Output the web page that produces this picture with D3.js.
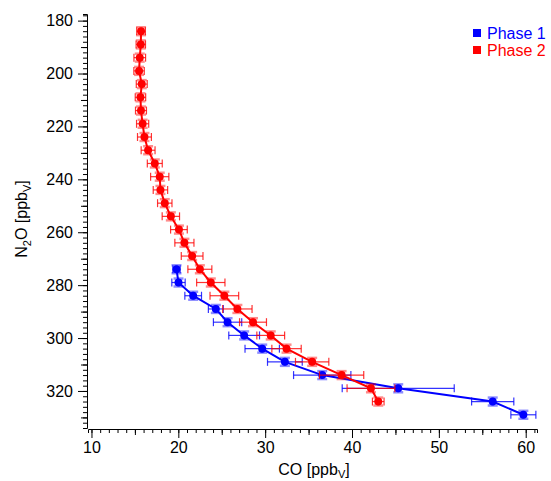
<!DOCTYPE html>
<html>
<head>
<meta charset="utf-8">
<script src="https://cdn.jsdelivr.net/npm/d3@7"></script>
<style>
  body { margin: 0; background: #fff; }
  svg { font-family: "Liberation Sans", Arial, Helvetica, sans-serif; }
  .axis path, .axis line { stroke: #000; }
  .axis text { fill: #000; font-size: 16px; }
</style>
</head>
<body>
<div id="chart"></div>
<script>
// phase 1 (blue)
var phase1N2O = [274, 279, 284, 289, 294, 299, 304, 309, 314, 319, 324, 329];
var phase1CO = [19.79, 20.02, 21.71, 24.32, 25.67, 27.58, 29.66, 32.27, 36.57, 45.32, 56.20, 59.73];
var phase1COErr = [0.42, 0.77, 0.96, 0.86, 1.63, 1.77, 1.98, 2.00, 3.30, 6.45, 2.43, 1.44];
var phase1N2OErr = [1.5, 1.5, 1.5, 1.5, 1.5, 1.5, 1.5, 1.5, 1.5, 1.5, 1.5, 1.5];

// phase 2 (red)
var phase2N2O = [184, 189, 194, 199, 204, 209, 214, 219, 224, 229, 234, 239, 244, 249, 254,
                 259, 264, 269, 274, 279, 284, 289, 294, 299, 304, 309, 314, 319, 324];
var phase2CO = [15.71, 15.68, 15.56, 15.48, 15.79, 15.64, 15.70, 15.89, 16.10, 16.52, 17.29, 17.86, 17.94, 18.44, 19.14,
                20.07, 20.70, 21.59, 22.48, 23.74, 25.30, 26.80, 28.60, 30.64, 32.46, 35.41, 38.80, 42.18, 43.02];
var phase2COErr = [0.50, 0.54, 0.67, 0.60, 0.63, 0.60, 0.63, 0.70, 0.80, 0.80, 0.86, 1.05, 0.83, 0.83, 1.00,
                   0.96, 1.10, 1.25, 1.38, 1.63, 1.65, 1.69, 1.55, 1.60, 1.69, 1.92, 2.55, 2.75, 0.67];
var phase2N2OErr = [1.5, 1.5, 1.5, 1.5, 1.5, 1.5, 1.5, 1.5, 1.5, 1.5, 1.5, 1.5, 1.5, 1.5, 1.5,
                    1.5, 1.5, 1.5, 1.5, 1.5, 1.5, 1.5, 1.5, 1.5, 1.5, 1.5, 1.5, 1.5, 1.5];

var xMajor = [10, 20, 30, 40, 50, 60];
var yMajor = [180, 200, 220, 240, 260, 280, 300, 320];

var width = 551, height = 481;

var svg = d3.select("#chart").append("svg")
    .attr("width", width)
    .attr("height", height);

var x = d3.scaleLinear().domain([9.6, 61.3]).range([88, 537]);
var y = d3.scaleLinear().domain([177.5, 334]).range([14, 428]);

function seq(a, b, step) {
  var out = [];
  for (var v = a; v <= b + 1e-9; v += step) out.push(Math.round(v * 100) / 100);
  return out;
}

// x axis: minor, medium, major ticks
var xg = svg.append("g").attr("class", "axis").attr("transform", "translate(0,429)");
xg.call(d3.axisBottom(x).tickValues(seq(10, 61, 1)).tickSize(4).tickFormat(""));
xg.append("g").call(d3.axisBottom(x).tickValues([15, 25, 35, 45, 55]).tickSize(6).tickFormat(""))
  .select(".domain").remove();
xg.append("g").call(d3.axisBottom(x).tickValues(xMajor).tickSize(9).tickPadding(4))
  .select(".domain").remove();
xg.selectAll("text").attr("font-size", 16);

// y axis
var yg = svg.append("g").attr("class", "axis").attr("transform", "translate(87,0)");
yg.call(d3.axisLeft(y).tickValues(seq(178, 334, 2)).tickSize(4).tickFormat(""));
yg.append("g").call(d3.axisLeft(y).tickValues([190, 210, 230, 250, 270, 290, 310, 330]).tickSize(6).tickFormat(""))
  .select(".domain").remove();
yg.append("g").call(d3.axisLeft(y).tickValues(yMajor).tickSize(9).tickPadding(5))
  .select(".domain").remove();
yg.selectAll("text").attr("font-size", 16);

// axis titles
var xt = svg.append("text")
    .attr("x", 314).attr("y", 475)
    .attr("text-anchor", "middle")
    .attr("font-size", 16);
xt.append("tspan").text("CO [ppb");
xt.append("tspan").attr("font-size", 11).attr("dy", 3).text("V");
xt.append("tspan").attr("dy", -3).text("]");

var yt = svg.append("text")
    .attr("transform", "translate(26.5,219) rotate(-90)")
    .attr("text-anchor", "middle")
    .attr("font-size", 16);
yt.append("tspan").text("N");
yt.append("tspan").attr("font-size", 11).attr("dy", 4).text("2");
yt.append("tspan").attr("dy", -4).text("O [ppb");
yt.append("tspan").attr("font-size", 11).attr("dy", 4).text("V");
yt.append("tspan").attr("dy", -4).text("]");

function drawSeries(co, n2o, coErr, n2oErr, color) {
  var data = co.map(function(d, i) {
    return { co: d, n2o: n2o[i], ex: coErr[i], ey: n2oErr[i] };
  });
  var g = svg.append("g");

  g.append("path")
    .datum(data)
    .attr("fill", "none")
    .attr("stroke", color)
    .attr("stroke-width", 2)
    .attr("d", d3.line().x(function(d) { return x(d.co); }).y(function(d) { return y(d.n2o); }));

  // vertical (N2O) error bars, light
  var vy = g.selectAll(".ey").data(data).enter().append("g")
    .attr("stroke", color).attr("stroke-opacity", 0.45).attr("stroke-width", 2.5);
  vy.append("line")
    .attr("x1", function(d) { return x(d.co); }).attr("x2", function(d) { return x(d.co); })
    .attr("y1", function(d) { return y(d.n2o - d.ey); }).attr("y2", function(d) { return y(d.n2o + d.ey); });
  vy.append("line")
    .attr("x1", function(d) { return x(d.co) - 5; }).attr("x2", function(d) { return x(d.co) + 5; })
    .attr("y1", function(d) { return y(d.n2o - d.ey); }).attr("y2", function(d) { return y(d.n2o - d.ey); });
  vy.append("line")
    .attr("x1", function(d) { return x(d.co) - 5; }).attr("x2", function(d) { return x(d.co) + 5; })
    .attr("y1", function(d) { return y(d.n2o + d.ey); }).attr("y2", function(d) { return y(d.n2o + d.ey); });

  // horizontal (CO) error bars
  var hx = g.selectAll(".ex").data(data).enter().append("g")
    .attr("stroke", color).attr("stroke-opacity", 0.8).attr("stroke-width", 1.2);
  hx.append("line")
    .attr("x1", function(d) { return x(d.co - d.ex); }).attr("x2", function(d) { return x(d.co + d.ex); })
    .attr("y1", function(d) { return y(d.n2o); }).attr("y2", function(d) { return y(d.n2o); });
  hx.append("line")
    .attr("x1", function(d) { return x(d.co - d.ex); }).attr("x2", function(d) { return x(d.co - d.ex); })
    .attr("y1", function(d) { return y(d.n2o) - 4; }).attr("y2", function(d) { return y(d.n2o) + 4; });
  hx.append("line")
    .attr("x1", function(d) { return x(d.co + d.ex); }).attr("x2", function(d) { return x(d.co + d.ex); })
    .attr("y1", function(d) { return y(d.n2o) - 4; }).attr("y2", function(d) { return y(d.n2o) + 4; });

  g.selectAll("circle").data(data).enter().append("circle")
    .attr("cx", function(d) { return x(d.co); })
    .attr("cy", function(d) { return y(d.n2o); })
    .attr("r", 4)
    .attr("fill", color);
}

drawSeries(phase1CO, phase1N2O, phase1COErr, phase1N2OErr, "#0000ff");
drawSeries(phase2CO, phase2N2O, phase2COErr, phase2N2OErr, "#ff0000");

// legend
var legend = [{ name: "Phase 1", color: "#0000ff" }, { name: "Phase 2", color: "#ff0000" }];
var lg = svg.selectAll(".legend").data(legend).enter().append("g")
    .attr("transform", function(d, i) { return "translate(473," + (29 + i * 17) + ")"; });
lg.append("rect").attr("width", 8).attr("height", 8).attr("fill", function(d) { return d.color; });
lg.append("text").attr("x", 14).attr("y", 9.5).attr("font-size", 16)
  .attr("fill", function(d) { return d.color; })
  .text(function(d) { return d.name; });
</script>
</body>
</html>
